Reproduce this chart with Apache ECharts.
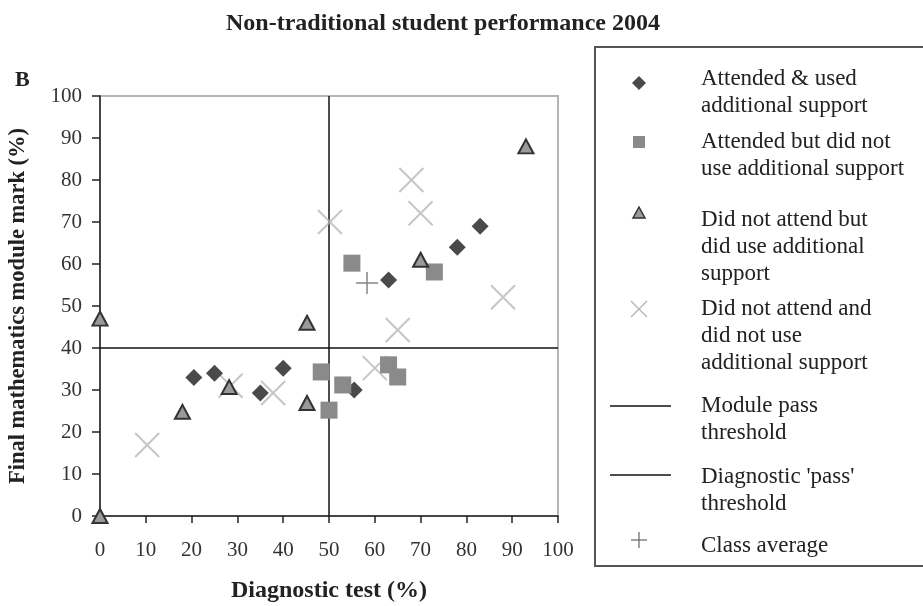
<!DOCTYPE html>
<html>
<head>
<meta charset="utf-8">
<script src="https://cdn.jsdelivr.net/npm/echarts@6/dist/echarts.min.js"></script>
<style>
  html, body { margin: 0; padding: 0; background: #fff; }
  #chart { width: 923px; height: 606px; }
</style>
</head>
<body>
<div id="chart"></div>
<script>
// 数据 (诊断测试 %, 期末成绩 %)
var attendedUsed = [[20.5, 33], [25, 34], [35, 29.3], [40, 35.2], [55.5, 30], [63, 56.2], [78, 64], [83, 69]]
var attendedNotUsed = [[55, 60.2], [73, 58.1], [48.3, 34.3], [53, 31.2], [50, 25.2], [63, 36], [65, 33.1]]
var notAttendedUsed = [[0, 47], [0, 0], [18, 24.8], [28.2, 30.7], [45.2, 46], [45.2, 26.9], [70, 61], [93, 88]]
var notAttendedNotUsed = [[10.3, 16.9], [28.5, 31], [37.8, 29.3], [60, 35.2], [65, 44.3], [50.2, 70], [68, 80], [70, 72.1], [88, 52.1]]
var classAverage = [[58.3, 55.5]]
var modulePass = [[0, 40], [100, 40]]
var diagnosticPass = [[50, 0], [50, 100]]

var legendNames = [
  'Attended & used\nadditional support',
  'Attended but did not\nuse additional support',
  'Did not attend but\ndid use additional\nsupport',
  'Did not attend and\ndid not use\nadditional support',
  'Module pass\nthreshold',
  "Diagnostic 'pass'\nthreshold",
  'Class average'
]

var serif = '"Liberation Serif", "DejaVu Serif", serif'
var crossPath = 'path://M0,0L10,10M10,0L0,10'
var plusPath = 'path://M5,0L5,10M0,5L10,5'

var charts = echarts.init(document.getElementById('chart'))

// 图例 (graphic 手画)
var legendTop = [79, 142, 220, 309, 406, 477, 546]
var iconX = 639
var legendItems = [
  { type: 'rect', shape: { x: 595, y: 47, width: 340, height: 519 }, style: { fill: 'none', stroke: '#555', lineWidth: 2 } }
]
legendItems.push({ type: 'polygon', shape: { points: [[iconX, legendTop[0] - 3], [iconX + 7, legendTop[0] + 4], [iconX, legendTop[0] + 11], [iconX - 7, legendTop[0] + 4]] }, style: { fill: '#4a4a4a' } })
legendItems.push({ type: 'rect', shape: { x: iconX - 6, y: legendTop[1] - 6, width: 12, height: 12 }, style: { fill: '#8a8a8a' } })
legendItems.push({ type: 'polygon', shape: { points: [[iconX, legendTop[2] - 13], [iconX + 6, legendTop[2] - 2], [iconX - 6, legendTop[2] - 2]] }, style: { fill: '#9a9a9a', stroke: '#333', lineWidth: 1.5 } })
legendItems.push({ type: 'polyline', shape: { points: [[iconX - 8, legendTop[3] - 8], [iconX + 8, legendTop[3] + 8]] }, style: { stroke: '#b8b8b8', lineWidth: 1.5 } })
legendItems.push({ type: 'polyline', shape: { points: [[iconX + 8, legendTop[3] - 8], [iconX - 8, legendTop[3] + 8]] }, style: { stroke: '#b8b8b8', lineWidth: 1.5 } })
legendItems.push({ type: 'line', shape: { x1: 610, y1: legendTop[4], x2: 671, y2: legendTop[4] }, style: { stroke: '#111', lineWidth: 1.5 } })
legendItems.push({ type: 'line', shape: { x1: 610, y1: legendTop[5] - 2, x2: 671, y2: legendTop[5] - 2 }, style: { stroke: '#111', lineWidth: 1.5 } })
legendItems.push({ type: 'line', shape: { x1: iconX - 8, y1: legendTop[6] - 6, x2: iconX + 8, y2: legendTop[6] - 6 }, style: { stroke: '#666', lineWidth: 1.2 } })
legendItems.push({ type: 'line', shape: { x1: iconX, y1: legendTop[6] - 14, x2: iconX, y2: legendTop[6] + 2 }, style: { stroke: '#666', lineWidth: 1.2 } })
legendNames.forEach(function (name, i) {
  legendItems.push({
    type: 'text',
    style: { text: name, x: 701, y: legendTop[i] - 13.5, font: '23px ' + serif, lineHeight: 27, fill: '#222', verticalAlign: 'top' }
  })
})
legendItems.push({
  type: 'text',
  style: { text: 'B', x: 15, y: 80, font: 'bold 22px ' + serif, fill: '#222', verticalAlign: 'middle' }
})

var option = {
  animation: false,
  title: {
    text: 'Non-traditional student performance 2004',
    left: 438,
    top: 7,
    textAlign: 'center',
    textStyle: { fontFamily: serif, fontWeight: 'bold', fontSize: 24, color: '#222' }
  },
  grid: {
    left: 100,
    right: 365,
    top: 96,
    bottom: 90,
    show: true,
    borderColor: '#b5b5b5',
    borderWidth: 2,
    outerBoundsMode: 'none'
  },
  xAxis: {
    type: 'value',
    min: 0,
    max: 100,
    interval: 10,
    name: 'Diagnostic test (%)',
    nameLocation: 'middle',
    nameGap: 63,
    nameTextStyle: { fontFamily: serif, fontWeight: 'bold', fontSize: 24, color: '#222' },
    axisLine: { onZero: false, lineStyle: { color: '#222', width: 1.5 } },
    axisTick: { length: 7, lineStyle: { color: '#222', width: 1.5 } },
    axisLabel: { margin: 24, fontFamily: serif, fontSize: 21, color: '#333' },
    splitLine: { show: false }
  },
  yAxis: {
    type: 'value',
    min: 0,
    max: 100,
    interval: 10,
    name: 'Final mathematics module mark (%)',
    nameLocation: 'middle',
    nameGap: 70,
    nameTextStyle: { fontFamily: serif, fontWeight: 'bold', fontSize: 22.5, color: '#222' },
    axisLine: { onZero: false, lineStyle: { color: '#222', width: 1.5 } },
    axisTick: { length: 8, lineStyle: { color: '#222', width: 1.5 } },
    axisLabel: { margin: 18, fontFamily: serif, fontSize: 21, color: '#333' },
    splitLine: { show: false }
  },
  graphic: legendItems,
  series: [
    {
      name: "Diagnostic 'pass' threshold",
      type: 'line',
      data: diagnosticPass,
      symbol: 'none',
      lineStyle: { color: '#111', width: 1.5 },
      z: 1
    },
    {
      name: 'Module pass threshold',
      type: 'line',
      data: modulePass,
      symbol: 'none',
      lineStyle: { color: '#111', width: 1.5 },
      z: 1
    },
    {
      name: 'Did not attend and did not use additional support',
      type: 'scatter',
      data: notAttendedNotUsed,
      symbol: crossPath,
      symbolSize: 24,
      itemStyle: { color: 'transparent', borderColor: '#b8b8b8', borderWidth: 2 }
    },
    {
      name: 'Class average',
      type: 'scatter',
      data: classAverage,
      symbol: plusPath,
      symbolSize: 22,
      itemStyle: { color: 'transparent', borderColor: '#666', borderWidth: 1.5 }
    },
    {
      name: 'Attended & used additional support',
      type: 'scatter',
      data: attendedUsed,
      symbol: 'diamond',
      symbolSize: 17,
      itemStyle: { color: '#4a4a4a', opacity: 1 }
    },
    {
      name: 'Attended but did not use additional support',
      type: 'scatter',
      data: attendedNotUsed,
      symbol: 'rect',
      symbolSize: 17,
      itemStyle: { color: '#8a8a8a', opacity: 1 }
    },
    {
      name: 'Did not attend but did use additional support',
      type: 'scatter',
      data: notAttendedUsed,
      symbol: 'triangle',
      symbolSize: [15, 14],
      itemStyle: { color: '#9a9a9a', borderColor: '#333', borderWidth: 2, opacity: 1 }
    }
  ]
}
charts.setOption(option)
</script>
</body>
</html>
